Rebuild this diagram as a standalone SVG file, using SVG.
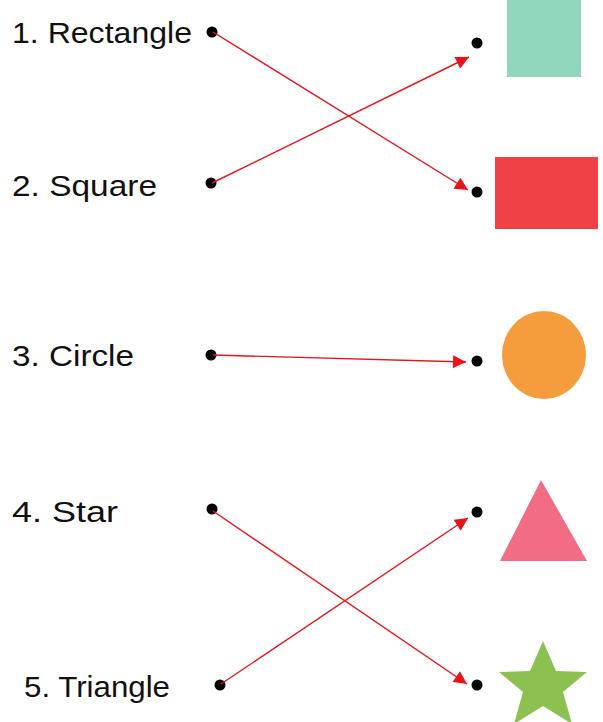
<svg xmlns="http://www.w3.org/2000/svg" width="603" height="722" viewBox="0 0 603 722">
<style>
.lbl{font-family:"Liberation Sans","DejaVu Sans",sans-serif;font-size:30px;fill:#111}
.dot{fill:#000}
.con{stroke:#e8141b;stroke-width:1.4;fill:none;marker-end:url(#ah)}
</style>
<defs>
<marker id="ah" viewBox="0 0 10 10" refX="10" refY="5" markerWidth="14" markerHeight="13" markerUnits="userSpaceOnUse" orient="auto">
<path d="M0,0 L10,5 L0,10 z" fill="#e8141b"/>
</marker>
</defs>
<rect width="603" height="722" fill="#fff"/>
<g id="left1"><text class="lbl" x="12" y="43" textLength="180" lengthAdjust="spacingAndGlyphs">1. Rectangle</text><circle class="dot" cx="212" cy="32" r="5.5"/></g>
<g id="left2"><text class="lbl" x="12" y="196" textLength="145" lengthAdjust="spacingAndGlyphs">2. Square</text><circle class="dot" cx="211" cy="183" r="5.5"/></g>
<g id="left3"><text class="lbl" x="12" y="366" textLength="122" lengthAdjust="spacingAndGlyphs">3. Circle</text><circle class="dot" cx="211" cy="355" r="5.5"/></g>
<g id="left4"><text class="lbl" x="12" y="522" textLength="106" lengthAdjust="spacingAndGlyphs">4. Star</text><circle class="dot" cx="212" cy="509" r="5.5"/></g>
<g id="left5"><text class="lbl" x="24" y="697" textLength="146" lengthAdjust="spacingAndGlyphs">5. Triangle</text><circle class="dot" cx="220" cy="685" r="5.5"/></g>
<g id="right1"><circle class="dot" cx="477" cy="43" r="5.5"/><rect x="507" y="0" width="74" height="77" fill="#8fd6bd"/></g>
<g id="right2"><circle class="dot" cx="477" cy="192" r="5.5"/><rect x="495" y="157" width="103" height="72" fill="#ef4146"/></g>
<g id="right3"><circle class="dot" cx="477" cy="361" r="5.5"/><ellipse cx="544" cy="355" rx="42" ry="44" fill="#f59d3d"/></g>
<g id="right4"><circle class="dot" cx="477" cy="512" r="5.5"/><polygon points="541,480 587,561 500,561" fill="#f26c86"/></g>
<g id="right5"><circle class="dot" cx="477" cy="685" r="5.5"/><polygon points="543,641 556,671 587,672 563,692 572,724 543,706 514,724 523,692 499,672 530,671" fill="#8cc152"/></g>
<g id="connectors">
<line class="con" x1="213" y1="32" x2="468" y2="190"/>
<line class="con" x1="212" y1="183" x2="469" y2="57"/>
<line class="con" x1="213" y1="355" x2="466" y2="362"/>
<line class="con" x1="213" y1="511" x2="467" y2="684"/>
<line class="con" x1="221" y1="684" x2="468" y2="518"/>
</g>
</svg>
